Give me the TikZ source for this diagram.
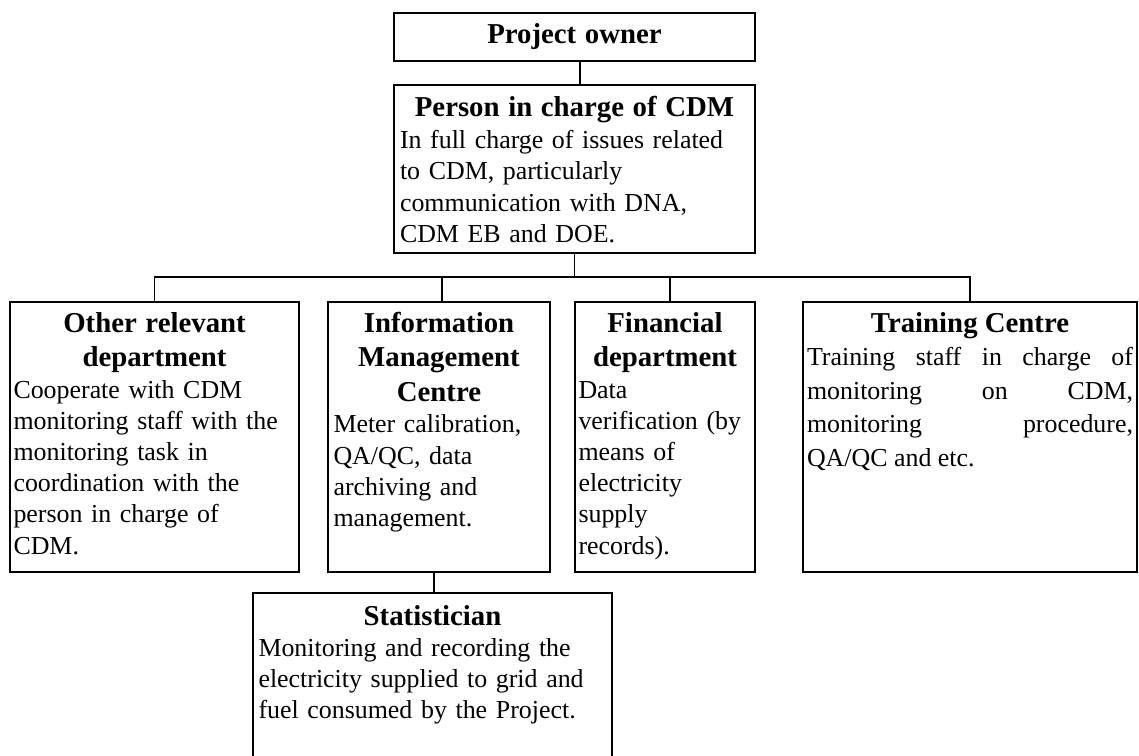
\documentclass[tikz,border=0pt]{standalone}
\usepackage{fontspec}
\setmainfont{Liberation Serif}
\usetikzlibrary{calc}
\newcommand\hdfont{\fontsize{28.8}{34.8}\selectfont\bfseries}
\newcommand\txfont{\fontsize{25.9}{31.2}\selectfont}
\begin{document}
\begin{tikzpicture}[x=1pt,y=-1pt,
  orgbox/.style={draw, line width=1.6pt, anchor=north west, inner ysep=0pt,
    outer sep=0pt, font=\txfont},
  link/.style={line width=1.3pt}]
\useasboundingbox (0,0) rectangle (1139,755);
\fill[white] (0,0) rectangle (1139,755);
\begin{scope}
\clip (-1,-1) rectangle (1140,756);

% top of the chart
\node[orgbox, inner xsep=6pt, text width=349pt, text height=30pt, text depth=18pt]
  (po) at (394,13) {\hdfont\centering Project owner\par};
\node[orgbox, inner xsep=6pt, text width=349pt, text height=31pt, text depth=137pt]
  (pc) at (394,85) {{\hdfont\centering Person in charge of CDM\par}
  \txfont\raggedright\vspace{1.5pt}In full charge of issues related\\ to CDM, particularly\\
  communication with DNA,\\ CDM EB and DOE.\par};

% departments
\node[orgbox, inner xsep=3.5pt, text width=282pt, text height=30pt, text depth=240pt]
  (ord) at (10,302) {{\hdfont\centering Other relevant\\ department\par}
  \txfont\raggedright Cooperate with CDM\\ monitoring staff with the\\
  monitoring task in\\ coordination with the\\ person in charge of\\ CDM.\par};
\node[orgbox, inner xsep=5.5pt, text width=211pt, text height=30pt, text depth=240pt]
  (imc) at (328,302) {{\hdfont\centering Information\\ Management\\ Centre\par}
  \txfont\raggedright Meter calibration,\\ QA/QC, data\\ archiving and\\ management.\par};
\node[orgbox, inner xsep=3.5pt, text width=173pt, text height=30pt, text depth=240pt]
  (fin) at (575,302) {{\hdfont\centering Financial\\ department\par}
  \txfont\raggedright Data\\ verification (by\\ means of\\ electricity\\ supply\\ records).\par};
\node[orgbox, align=justify, inner xsep=4pt, text width=326pt, text height=30pt, text depth=240pt]
  (trn) at (803,302) {{\hdfont\centering Training Centre\par}
  \fontsize{25.9}{33.6}\selectfont\hbadness=10000
  Training staff in charge of\linebreak monitoring on CDM,\linebreak
  monitoring procedure,\linebreak QA/QC and etc.\par};

% statistician below the information centre
\node[orgbox, inner xsep=5.5pt, text width=348pt, text height=32pt, text depth=180pt]
  (sta) at (253,593) {{\hdfont\centering Statistician\par}
  \txfont\raggedright Monitoring and recording the\\ electricity supplied to grid and\\
  fuel consumed by the Project.\par};
\end{scope}

% connectors
\coordinate (bus) at (574.5,277);
\coordinate (poFoot) at ($(po.south)+(5.5,0)$);
\coordinate (imcTop) at ($(imc.north)+(3,0)$);
\coordinate (finTop) at ($(fin.north)+(5,0)$);
\coordinate (imcFoot) at ($(imc.south)+(-5,0)$);
\draw[link] (poFoot) -- (poFoot |- pc.north);
\draw[link] (pc.south) -- (bus);
\draw[link] (ord.north) |- (bus) -| (trn.north);
\draw[link] (imcTop) -- (imcTop |- bus);
\draw[link] (finTop) -- (finTop |- bus);
\draw[link] (imcFoot) -- (imcFoot |- sta.north);
\end{tikzpicture}
\end{document}
